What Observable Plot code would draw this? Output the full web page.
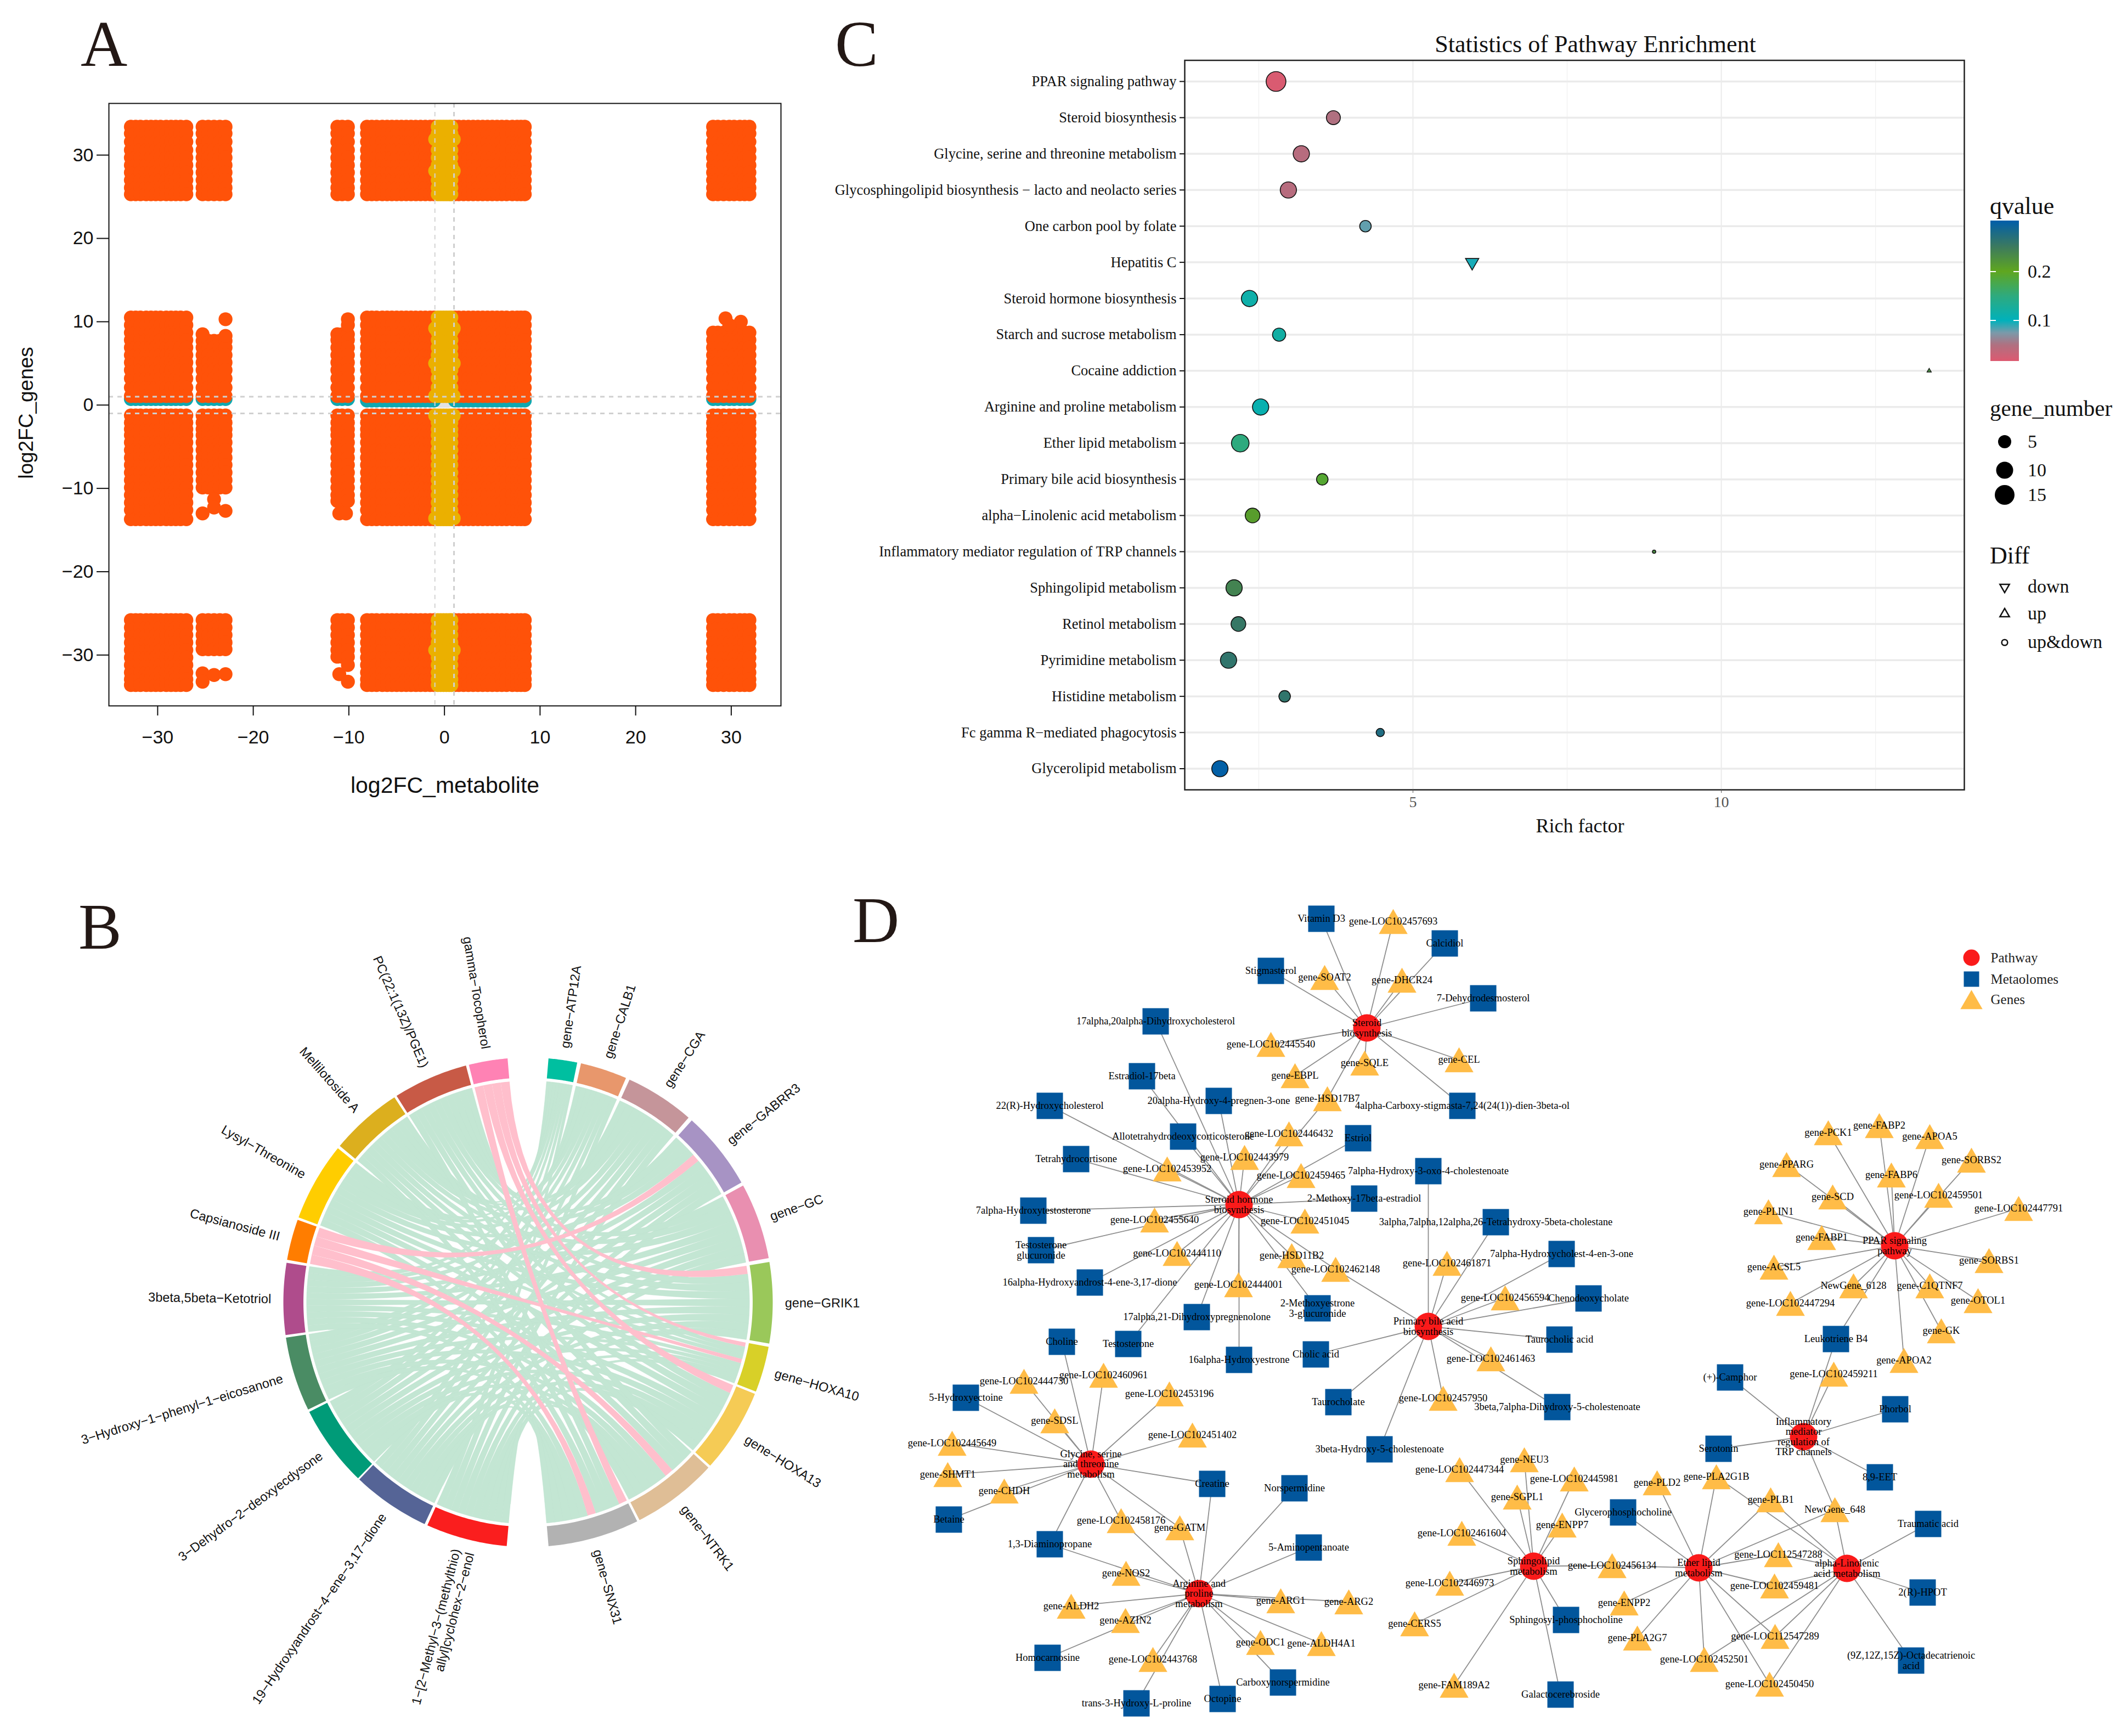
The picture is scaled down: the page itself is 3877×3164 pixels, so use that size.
<!DOCTYPE html>
<html><head><meta charset="utf-8">
<style>
html,body{margin:0;padding:0;background:#fff;overflow:hidden}
#page{position:relative;width:3877px;height:3164px;background:#fff;overflow:hidden}
#page>svg,#page>figure{position:absolute;margin:0}
.letter{position:absolute;font-family:"Liberation Serif",serif;font-size:118px;line-height:1;color:#231815}
.lg{position:absolute;font-family:"Liberation Serif",serif;color:#111;white-space:nowrap;line-height:1}
</style>
<script src="https://cdn.jsdelivr.net/npm/d3@7"></script>
<script src="https://cdn.jsdelivr.net/npm/@observablehq/plot@0.6"></script>
</head><body><div id="page"></div>
<script>
// ---------- Panel A values ----------
const metabFar = [-32.8,-32.3,-31.8,-31.2,-30.7,-30.2,-29.7,-29.1,-28.6,-28.1,-27.6,-27.0];
const metabNear = [-25.3,-24.7,-24.1,-23.5,-22.9];
const metabMid = [-11.2,-10.7,-10.1];
const metabCore = [-8.1,-7.6,-7.1,-6.5,-6,-5.5,-5,-4.5,-4,-3.5,-3,-2.5,-2,-1.5,-1.1,1.1,1.5,2,2.5,3,3.5,4,4.5,5,5.5,6,6.5,7.1,7.6,8.0,8.4];
const metabHigh = [28.1,28.6,29.2,29.8,30.3,30.9,31.4,31.9];
const metabInner = [-0.7,-0.4,-0.1,0.2,0.5,0.72];
const metabRim = [-0.97,0.97];
const metabCentre = [-0.45,-0.1,0.3];
const geneTop = [33.4,32.6,31.6,30.6,29.7,28.8,27.9,27,26.1,25.3];
const geneUp = [10.5,9.6,8.7,7.8,6.9,6,5.1,4.2,3.2,2.1,1.09];
const geneDown = [-1.25,-2.1,-2.9,-3.6,-4.5,-5.4,-6.3,-7.2,-8.1,-9,-9.9,-10.8,-11.7,-12.6,-13.7];
const geneBottom = [-25.8,-26.7,-27.6,-28.5,-29.4,-30.3,-31.2,-32.1,-32.9,-33.6];
const geneNeutralCore = [0.54];
const geneNeutralOuter = [0.72];
const geneCentre = [0.5];
const geneUpNear = [7.7,6.9,6,5.1,4.2,3.2,2.1,1.09];
const geneDownNear = [-1.25,-2.1,-2.9,-3.6,-4.5,-5.4,-6.3,-7.2,-8.1,-9,-9.9];
const geneBottomNear = [-25.8,-26.7,-27.6,-28.5,-29.3];
const geneUpMid = [8.5,7.8,6.9,6,5.1,4.2,3.2,2.1,1.09];
const geneDownMid = [-1.25,-2.1,-2.9,-3.6,-4.5,-5.4,-6.3,-7.2,-8.1,-9,-9.9,-10.8,-11.5];
const geneBottomMid = [-25.8,-26.7,-27.6,-28.5,-29.4,-30.2];
const geneUpHigh = [8.7,7.8,6.9,6,5.1,4.2,3.2,2.1,1.09];
const geneRimSparse = [31.9,28.1,9.2,5,1.09,-1.25,-13.6,-29.4];
const strayMetab = [-25.3,-22.9,-22.9,-24.1,-24.1,-25.3,-22.9,-25.3,-25.3,-24.1,-22.9,-10.1,-10.1,-11,-10.3,-11,-10.1,-10.1,29.4,31,29.8];
const strayGene = [8.5,8.3,10.3,-11.3,-12.3,-13,-12.7,-32.2,-33.2,-32.4,-32.3,9.6,10.3,-13,-13,-32.3,-31.2,-33.2,10.4,10,9.6];

// ---------- Panel B values ----------
const geneSectors = ["gene−ATP12A","gene−CALB1","gene−CGA","gene−GABRR3","gene−GC","gene−GRIK1","gene−HOXA10","gene−HOXA13","gene−NTRK1","gene−SNX31"];
const geneStart = [4.8,12.5,24.5,42,61.5,80.5,100.5,112,132.5,153.5];
const geneEnd = [11.6,23.6,41,60.7,79.6,99.7,111.4,131.9,152.9,175.2];
const geneRing = ["#00BFA0","#E8976C","#C5959A","#A793C4","#E98FB0","#9AC85A","#D8D028","#F5CB55","#DFBE96","#B2B2B2"];
const metaSectors = ["1−[2−Methyl−3−(methylthio)\nallyl]cyclohex−2−enol","19−Hydroxyandrost−4−ene−3,17−dione","3−Dehydro−2−deoxyecdysone","3−Hydroxy−1−phenyl−1−eicosanone","3beta,5beta−Ketotriol","Capsianoside III","Lysyl−Threonine","Mellilotoside A","PC(22:1(13Z)/PGE1)","gamma−Tocopherol"];
const metaStart = [185,205,224,244,262.3,280,290.3,309.7,327.5,346];
const metaEnd = [204.3,223.6,243.4,261.7,279.3,289.7,309,326.9,345.3,355.2];
const metaRing = ["#FA1E1E","#556496","#009B78","#4A8C64","#AF4C8C","#FF7D00","#FFCD00","#DCAF1E","#C85A46","#FF82B4"];
const linkMatrix = [
 [1,1,1,1,1,1,1,1,1,1],
 [1,1,1,1,1,1,1,1,1,1],
 [1,1,1,1,1,1,1,1,1,1],
 [1,1,1,1,1,1,1,1,1,1],
 [1,1,1,1,1,1,1,1,1,1],
 [0,0,0,1,0,0,1,0,1,1],
 [1,1,1,1,1,1,1,1,1,1],
 [1,1,1,1,1,1,1,1,1,1],
 [1,1,1,1,1,1,1,1,1,1],
 [0,0,0,0,0,1,1,1,0,1]
];
const pinkMetabolites = ["Capsianoside III","gamma−Tocopherol"];

// ---------- Panel C values ----------
const pathways = ["PPAR signaling pathway","Steroid biosynthesis","Glycine, serine and threonine metabolism","Glycosphingolipid biosynthesis − lacto and neolacto series","One carbon pool by folate","Hepatitis C","Steroid hormone biosynthesis","Starch and sucrose metabolism","Cocaine addiction","Arginine and proline metabolism","Ether lipid metabolism","Primary bile acid biosynthesis","alpha−Linolenic acid metabolism","Inflammatory mediator regulation of TRP channels","Sphingolipid metabolism","Retinol metabolism","Pyrimidine metabolism","Histidine metabolism","Fc gamma R−mediated phagocytosis","Glycerolipid metabolism"];
const richFactor = [2.78,3.71,3.19,2.98,4.23,5.96,2.35,2.83,13.37,2.53,2.20,3.53,2.40,8.91,2.10,2.17,2.01,2.92,4.47,1.87];
const geneNumber = [15,6,9,9,4,3,9,5,1,9,11,4,7,1,9,7,9,4,2,9];
const qValue = [.02,.05,.045,.045,.08,.095,.115,.12,.23,.11,.15,.19,.21,.23,.24,.255,.26,.26,.275,.30];
const diffKind = ["up&down","up&down","up&down","up&down","up&down","down","up&down","up&down","up","up&down","up&down","up&down","up&down","up&down","up&down","up&down","up&down","up&down","up&down","up&down"];
const qStops = [.0173,.05,.075,.1,.15,.2,.25,.303];
const qColors = ["#DD5970","#B07080","#7A9AAA","#00B1BB","#2EAA7E","#5FA61F","#3C7A5E","#005EAA"];
const geneLegend = [5,10,15];
const diffLegend = ["down","up","up&down"];

// ---------- Panel D values: [label, layout x, layout y] ----------
const pathwayNodes = [
["Steroid\nbiosynthesis",2491,1873],["Steroid hormone\nbiosynthesis",2258,2195],["Primary bile acid\nbiosynthesis",2603,2417],
["PPAR signaling\npathway",3453,2270],["Inflammatory\nmediator\nregulation of\nTRP channels",3287,2618],
["Glycine, serine\nand threonine\nmetabolism",1988,2668],["Arginine and\nproline\nmetabolism",2185,2904],
["Sphingolipid\nmetabolism",2795,2854],["Ether lipid\nmetabolism",3096,2857],["alpha-Linolenic\nacid metabolism",3366,2858]];
const metaboliteNodes = [
["Vitamin D3",2408,1674],["Calcidiol",2633,1719],["Stigmasterol",2316,1769],["7-Dehydrodesmosterol",2703,1819],
["17alpha,20alpha-Dihydroxycholesterol",2106,1861],["Estradiol-17beta",2081,1961],["20alpha-Hydroxy-4-pregnen-3-one",2221,2006],
["22(R)-Hydroxycholesterol",1913,2015],["4alpha-Carboxy-stigmasta-7,24(24(1))-dien-3beta-ol",2665,2015],["Allotetrahydrodeoxycorticosterone",2156,2071],
["Estriol",2475,2074],["Tetrahydrocortisone",1961,2112],["7alpha-Hydroxy-3-oxo-4-cholestenoate",2603,2134],["2-Methoxy-17beta-estradiol",2486,2184],
["7alpha-Hydroxytestosterone",1883,2206],["3alpha,7alpha,12alpha,26-Tetrahydroxy-5beta-cholestane",2726,2227],["Testosterone\nglucuronide",1897,2278],
["7alpha-Hydroxycholest-4-en-3-one",2846,2285],["16alpha-Hydroxyandrost-4-ene-3,17-dione",1986,2337],["Chenodeoxycholate",2895,2366],
["2-Methoxyestrone\n3-glucuronide",2401,2384],["17alpha,21-Dihydroxypregnenolone",2181,2400],["Taurocholic acid",2842,2441],
["3beta,7alpha-Dihydroxy-5-cholestenoate",2838,2564],["(+)-Camphor",3153,2510],["Phorbol",3454,2568],["Serotonin",3132,2640],["8,9-EET",3426,2692],
["Leukotriene B4",3346,2440],["Glycerophosphocholine",2958,2756],["Traumatic acid",3514,2777],["2(R)-HPOT",3504,2902],["Sphingosyl-phosphocholine",2854,2952],
["(9Z,12Z,15Z)-Octadecatrienoic\nacid",3483,3026],["Galactocerebroside",2844,3088],["Choline",1935,2445],["Testosterone",2056,2449],["16alpha-Hydroxyestrone",2258,2478],
["Cholic acid",2398,2468],["5-Hydroxyectoine",1760,2547],["Taurocholate",2439,2555],["3beta-Hydroxy-5-cholestenoate",2514,2641],["Creatine",2209,2704],
["Norspermidine",2359,2712],["Betaine",1729,2769],["1,3-Diaminopropane",1913,2814],["5-Aminopentanoate",2385,2820],["Homocarnosine",1909,3021],
["Carboxynorspermidine",2338,3066],["Octopine",2228,3096],["trans-3-Hydroxy-L-proline",2071,3104]];
const geneNodes = [
["gene-LOC102457693",2539,1679],["gene-SOAT2",2414,1781],["gene-DHCR24",2555,1786],["gene-LOC102445540",2316,1903],["gene-EBPL",2360,1960],["gene-SQLE",2487,1937],["gene-CEL",2659,1931],
["gene-HSD17B7",2419,2002],["gene-LOC102446432",2349,2066],["gene-LOC102443979",2268,2109],["gene-LOC102453952",2127,2130],["gene-LOC102459465",2371,2142],["gene-LOC102455640",2104,2223],
["gene-LOC102451045",2378,2225],["gene-LOC102444110",2145,2284],["gene-HSD11B2",2354,2288],["gene-LOC102461871",2637,2302],["gene-LOC102462148",2434,2313],["gene-LOC102444001",2257,2341],
["gene-LOC102456594",2743,2365],["gene-PCK1",3332,2064],["gene-FABP2",3425,2051],["gene-APOA5",3517,2071],["gene-SORBS2",3593,2114],["gene-PPARG",3256,2122],["gene-FABP6",3447,2141],
["gene-SCD",3340,2181],["gene-LOC102459501",3533,2178],["gene-LOC102447791",3679,2202],["gene-PLIN1",3223,2208],["gene-FABP1",3320,2255],["gene-ACSL5",3233,2309],["gene-SORBS1",3625,2297],
["NewGene_6128",3378,2343],["gene-C1QTNF7",3517,2343],["gene-OTOL1",3605,2370],["gene-LOC102447294",3263,2375],["gene-GK",3538,2425],["gene-APOA2",3470,2479],
["gene-LOC102461463",2717,2476],["gene-LOC102457950",2630,2548],["gene-LOC102459211",3342,2504],["gene-PLA2G1B",3128,2691],["gene-PLD2",3020,2702],["gene-NEU3",2778,2660],
["gene-LOC102447344",2660,2678],["gene-LOC102445981",2869,2695],["gene-SGPL1",2765,2728],["gene-PLB1",3227,2733],["NewGene_648",3344,2751],["gene-ENPP7",2847,2779],["gene-LOC102461604",2664,2794],
["gene-LOC112547288",3241,2833],["gene-LOC102456134",2938,2853],["gene-LOC102459481",3234,2890],["gene-LOC102446973",2642,2885],["gene-ENPP2",2960,2921],["gene-CERS5",2578,2959],["gene-PLA2G7",2984,2985],
["gene-LOC112547289",3235,2982],["gene-LOC102452501",3106,3024],["gene-LOC102450450",3225,3069],["gene-FAM189A2",2650,3071],
["gene-LOC102460961",2011,2506],["gene-LOC102444730",1866,2517],["gene-LOC102453196",2131,2540],["gene-SDSL",1922,2589],["gene-LOC102451402",2173,2615],["gene-LOC102445649",1735,2630],
["gene-SHMT1",1727,2687],["gene-CHDH",1830,2717],["gene-LOC102458176",2043,2771],["gene-GATM",2150,2784],["gene-NOS2",2052,2867],["gene-ARG1",2334,2917],["gene-ARG2",2458,2919],
["gene-ALDH2",1952,2927],["gene-AZIN2",2051,2953],["gene-ODC1",2297,2993],["gene-ALDH4A1",2408,2995],["gene-LOC102443768",2101,3024]];
const steroidLinks = ["Vitamin D3","gene-LOC102457693","Calcidiol","Stigmasterol","gene-SOAT2","gene-DHCR24","7-Dehydrodesmosterol","gene-LOC102445540","gene-EBPL","gene-SQLE","gene-CEL","4alpha-Carboxy-stigmasta-7,24(24(1))-dien-3beta-ol","gene-HSD17B7"];
const hormoneLinks = ["17alpha,20alpha-Dihydroxycholesterol","Estradiol-17beta","20alpha-Hydroxy-4-pregnen-3-one","22(R)-Hydroxycholesterol","gene-LOC102446432","Allotetrahydrodeoxycorticosterone","Estriol","Tetrahydrocortisone","gene-LOC102443979","gene-LOC102453952","gene-LOC102459465","2-Methoxy-17beta-estradiol","7alpha-Hydroxytestosterone","gene-LOC102455640","gene-LOC102451045","Testosterone\nglucuronide","gene-LOC102444110","gene-HSD11B2","gene-LOC102462148","16alpha-Hydroxyandrost-4-ene-3,17-dione","gene-LOC102444001","2-Methoxyestrone\n3-glucuronide","17alpha,21-Dihydroxypregnenolone","Testosterone","16alpha-Hydroxyestrone","gene-HSD17B7"];
const bileLinks = ["7alpha-Hydroxy-3-oxo-4-cholestenoate","3alpha,7alpha,12alpha,26-Tetrahydroxy-5beta-cholestane","gene-LOC102461871","7alpha-Hydroxycholest-4-en-3-one","gene-LOC102456594","Chenodeoxycholate","Taurocholic acid","gene-LOC102461463","gene-LOC102457950","3beta,7alpha-Dihydroxy-5-cholestenoate","Cholic acid","Taurocholate","3beta-Hydroxy-5-cholestenoate","gene-LOC102462148"];
const pparLinks = ["gene-PCK1","gene-FABP2","gene-APOA5","gene-SORBS2","gene-PPARG","gene-FABP6","gene-SCD","gene-LOC102459501","gene-LOC102447791","gene-PLIN1","gene-FABP1","gene-ACSL5","gene-SORBS1","NewGene_6128","gene-C1QTNF7","gene-OTOL1","gene-LOC102447294","gene-GK","gene-APOA2","Leukotriene B4"];
const trpLinks = ["(+)-Camphor","gene-LOC102459211","Leukotriene B4","Phorbol","Serotonin","8,9-EET","NewGene_648"];
const glycineLinks = ["Choline","gene-LOC102460961","gene-LOC102444730","5-Hydroxyectoine","gene-LOC102453196","gene-SDSL","gene-LOC102451402","gene-LOC102445649","gene-SHMT1","Creatine","gene-CHDH","Betaine","gene-LOC102458176","gene-GATM","1,3-Diaminopropane"];
const arginineLinks = ["Creatine","Norspermidine","gene-LOC102458176","gene-GATM","1,3-Diaminopropane","5-Aminopentanoate","gene-NOS2","gene-ARG1","gene-ARG2","gene-ALDH2","gene-AZIN2","gene-ODC1","gene-ALDH4A1","Homocarnosine","gene-LOC102443768","Carboxynorspermidine","Octopine","trans-3-Hydroxy-L-proline"];
const sphingoLinks = ["gene-NEU3","gene-LOC102447344","gene-LOC102445981","gene-SGPL1","gene-ENPP7","gene-LOC102461604","gene-LOC102456134","gene-LOC102446973","gene-CERS5","Sphingosyl-phosphocholine","gene-FAM189A2","Galactocerebroside"];
const etherLinks = ["gene-LOC102456134","gene-PLD2","gene-PLA2G1B","gene-PLB1","NewGene_648","Glycerophosphocholine","gene-LOC112547288","gene-LOC102459481","gene-ENPP2","gene-PLA2G7","gene-LOC112547289","gene-LOC102452501","gene-LOC102450450"];
const linolenicLinks = ["NewGene_648","Traumatic acid","gene-LOC112547288","gene-LOC102459481","2(R)-HPOT","(9Z,12Z,15Z)-Octadecatrienoic\nacid","gene-LOC112547289","gene-LOC102452501","gene-LOC102450450","gene-PLB1","gene-PLA2G1B"];
const hubLinks = [steroidLinks,hormoneLinks,bileLinks,pparLinks,trpLinks,glycineLinks,arginineLinks,sphingoLinks,etherLinks,linolenicLinks];
const legendNames = ["Pathway","Metaolomes","Genes"];
const legendX = [3593,3593,3593];
const legendY = [1745,1784,1821];

// ---------- helpers ----------
const page = document.getElementById("page");
const SERIF = '"Liberation Serif",serif', SANS = '"Liberation Sans",Arial,sans-serif';
function place(el,left,top){el.style.position="absolute";el.style.left=left+"px";el.style.top=top+"px";page.appendChild(el);return el;}
function addText(cls,txt,left,top,size,extra){const d=document.createElement("div");d.className=cls;d.textContent=txt;d.style.left=left+"px";d.style.top=top+"px";if(size)d.style.fontSize=size+"px";if(extra)Object.assign(d.style,extra);page.appendChild(d);return d;}

// ---------- Panel A ----------
const cross=(xs,ys)=>xs.flatMap(x=>ys.map(y=>({x,y})));
const allGenes=[...geneTop,...geneUp,...geneDown,...geneBottom];
const rank={none:0,gene:0,both:1,metab:2};
const points=[
 ...cross(metabCentre,geneCentre),
 ...cross(metabCore,geneNeutralCore),
 ...cross([...metabFar,...metabNear,...metabMid,...metabHigh],geneNeutralOuter),
 ...cross(metabFar,allGenes),...cross(metabCore,allGenes),...cross(metabInner,allGenes),
 ...cross(metabRim,geneRimSparse),
 ...cross(metabNear,[...geneTop,...geneUpNear,...geneDownNear,...geneBottomNear]),
 ...cross(metabMid,[...geneTop,...geneUpMid,...geneDownMid,...geneBottomMid]),
 ...cross(metabHigh,[...geneTop,...geneUpHigh,...geneDown,...geneBottom]),
 ...strayMetab.map((x,i)=>({x,y:strayGene[i]}))
].map(d=>({...d,cls:(Math.abs(d.x)<1&&Math.abs(d.y)<1)?"none":Math.abs(d.x)<1?"metab":Math.abs(d.y)<1?"gene":"both"}));
points.sort((a,b)=>rank[a.cls]-rank[b.cls]);
const panelA=Plot.plot({
 width:1500,height:1400,marginLeft:198,marginRight:77,marginTop:88,marginBottom:214,
 style:{fontFamily:SANS,background:"none",overflow:"visible"},
 x:{domain:[-35.1,35.2],axis:null},y:{domain:[-36.1,36.2],axis:null},
 color:{domain:["none","gene","both","metab"],range:["#E2E2E2","#10A8B0","#FF5209","#EBB000"]},
 marks:[
  Plot.dot(points,{x:"x",y:"y",r:12.7,fill:"cls",stroke:"none"}),
  Plot.ruleX([-1],{stroke:"#d4d4d4",strokeWidth:2,strokeDasharray:"8 8"}),
  Plot.ruleX([1],{stroke:"#cfcfcf",strokeWidth:3,strokeDasharray:"8 8"}),
  Plot.ruleY([-1,1],{stroke:"#d0d0d0",strokeWidth:3,strokeDasharray:"8 8"}),
  Plot.frame({stroke:"#111",strokeWidth:2}),
  Plot.axisX({ticks:[-30,-20,-10,0,10,20,30],tickSize:18,tickPadding:26,fontSize:34,label:null,color:"#111",strokeWidth:2}),
  Plot.axisY({ticks:[-30,-20,-10,0,10,20,30],tickSize:22,tickPadding:6,fontSize:34,label:null,color:"#111",strokeWidth:2}),
  Plot.text(["log2FC_metabolite"],{frameAnchor:"bottom",dy:158,fontSize:41,fill:"#111"}),
  Plot.text(["log2FC_genes"],{frameAnchor:"left",textAnchor:"middle",rotate:-90,dx:-150,dy:15,fontSize:37,fill:"#111"})
 ]});
place(panelA,0,100);

// ---------- Panel B ----------
const rad=a=>a*Math.PI/180;
const polar=(a,r)=>({x:r*Math.sin(rad(a)),y:r*Math.cos(rad(a))});
const arcPts=(a0,a1,r,n=10)=>d3.range(n+1).map(i=>polar(a0+(a1-a0)*i/n,r));
const quad=(p,q,n=22)=>d3.range(1,n).map(i=>{const t=i/n;return{x:(1-t)*(1-t)*p.x+t*t*q.x,y:(1-t)*(1-t)*p.y+t*t*q.y};});
const R=0.905;
const metaTotals=linkMatrix.map(r=>d3.sum(r));
const geneTotals=geneSectors.map((_,j)=>d3.sum(linkMatrix,r=>r[j]));
const metaUsed=metaSectors.map(()=>0), geneUsed=geneSectors.map(()=>0);
const spanOf=new Map();
metaSectors.forEach((m,i)=>{for(let j=geneSectors.length-1;j>=0;j--){if(!linkMatrix[i][j])continue;
  const w=(metaEnd[i]-metaStart[i])/metaTotals[i];const a0=metaStart[i]+metaUsed[i]*w;metaUsed[i]+=linkMatrix[i][j];spanOf.set(i+"-"+j,{a0,a1:a0+w});}});
const ribbons=[];
geneSectors.forEach((g,j)=>{for(let i=metaSectors.length-1;i>=0;i--){if(!linkMatrix[i][j])continue;
  const w=(geneEnd[j]-geneStart[j])/geneTotals[j];const b0=geneStart[j]+geneUsed[j]*w;geneUsed[j]+=linkMatrix[i][j];
  const {a0,a1}=spanOf.get(i+"-"+j);const b1=b0+w;
  const A=arcPts(a0,a1,R,4),B=arcPts(b0,b1,R,4);
  const pts=[...A,...quad(A[4],B[0]),...B,...quad(B[4],A[0])];
  const pink=pinkMetabolites.includes(metaSectors[i]);
  pts.forEach(p=>ribbons.push({...p,id:i+"-"+j,pink}));
}});
const ringPts=[];
[[geneSectors,geneStart,geneEnd,geneRing],[metaSectors,metaStart,metaEnd,metaRing]].forEach(([names,s,e,c])=>names.forEach((n,k)=>{
  [...arcPts(s[k],e[k],1,24),...arcPts(e[k],s[k],0.918,24)].forEach(p=>ringPts.push({...p,id:n,color:c[k]}));}));
const sectorLabels=[...geneSectors.map((n,k)=>({n,a:(geneStart[k]+geneEnd[k])/2})),...metaSectors.map((n,k)=>({n,a:(metaStart[k]+metaEnd[k])/2}))]
 .map(d=>({...d,...polar(d.a,1.05),rot:d.a<180?d.a-90:d.a-270,anchor:d.a<180?"start":"end"}));
const panelB=Plot.plot({
 width:1600,height:1560,margin:0,
 style:{background:"none",overflow:"visible",fontFamily:SANS},
 x:{domain:[-1,1],range:[516,1408],axis:null},y:{domain:[-1,1],range:[1219,327],axis:null},
 marks:[
  Plot.line(ribbons.filter(d=>!d.pink),{x:"x",y:"y",z:"id",fill:"#C3E6D3",stroke:"#BFE3D0",strokeWidth:0.6,curve:"linear"}),
  Plot.line(ribbons.filter(d=>d.pink),{x:"x",y:"y",z:"id",fill:"#FFBFCC",stroke:"none",curve:"linear"}),
  Plot.line(ringPts,{x:"x",y:"y",z:"id",fill:"color",stroke:"none",curve:"linear"}),
  Plot.text(sectorLabels.filter(d=>d.anchor==="start"),{x:"x",y:"y",text:"n",rotate:"rot",textAnchor:"start",fontSize:23.5,fill:"#111",lineHeight:1.1}),
  Plot.text(sectorLabels.filter(d=>d.anchor==="end"),{x:"x",y:"y",text:"n",rotate:"rot",textAnchor:"end",fontSize:23.5,fill:"#111",lineHeight:1.1})
 ]});
place(panelB,0,1600);

// ---------- Panel C ----------
const enrich=pathways.map((p,i)=>({p,rich:richFactor[i],n:geneNumber[i],q:qValue[i],diff:diffKind[i]}));
const rScale={type:"linear",domain:[1,2,5,10,15,16],range:[3,7.5,12,15.5,18,18.6],clamp:true};
const dotOpts={x:"rich",y:"p",r:"n",fill:"q",stroke:"#111",strokeWidth:1.6};
const panelC=Plot.plot({
 width:2300,height:1460,marginLeft:1009,marginRight:2300-2430,marginTop:109.5,marginBottom:1460-1439,
 style:{fontFamily:SERIF,background:"none",overflow:"visible"},
 x:{domain:[1.30,13.94],axis:null},
 y:{type:"point",domain:pathways,padding:0.584,round:false,axis:null},
 r:rScale,
 color:{type:"linear",domain:qStops,range:qColors},
 marks:[
  Plot.ruleX([2.5,7.5,12.5],{stroke:"#F2F2F2",strokeWidth:1.5}),
  Plot.ruleX([5,10],{stroke:"#EBEBEB",strokeWidth:2}),
  Plot.ruleY(pathways,{y:d=>d,stroke:"#EBEBEB",strokeWidth:3.5}),
  Plot.dot(enrich.filter(d=>d.diff==="up&down"),{...dotOpts}),
  Plot.dot(enrich.filter(d=>d.diff==="up"),{...dotOpts,symbol:"triangle",strokeWidth:1.2}),
  Plot.dot(enrich.filter(d=>d.diff==="down"),{...dotOpts,symbol:"triangle",rotate:180}),
  Plot.frame({stroke:"#222",strokeWidth:2.5}),
  Plot.axisX({ticks:[5,10],tickSize:6,tickPadding:6,fontSize:28,label:null,color:"#555"}),
  Plot.axisY({ticks:pathways,tickSize:9,tickPadding:6,fontSize:26.5,label:null,color:"#111",strokeWidth:2}),
  Plot.text(["Statistics of Pathway Enrichment"],{frameAnchor:"top",dy:-29,dx:38,fontSize:44,fill:"#111",lineAnchor:"middle"}),
  Plot.text(["Rich factor"],{frameAnchor:"bottom",dy:66,dx:10,fontSize:36,fill:"#111",lineAnchor:"middle"})
 ]});
place(panelC,1150,0);

// Panel C legends
addText("lg","qvalue",3627,354,44);
const bar=document.createElement("div");
const qTop=.303,qBot=.0173;
bar.style.cssText=`position:absolute;left:3628px;top:402px;width:52px;height:256px;background:linear-gradient(to top,${qStops.map((q,i)=>qColors[i]+" "+((q-qBot)/(qTop-qBot)*100).toFixed(1)+"%").join(",")})`;
page.appendChild(bar);
[[0.2,494.5],[0.1,584]].forEach(([q,y])=>{
 addText("lg",String(q),3696,y-17,34);
 [3628,3670].forEach(x=>{const t=document.createElement("div");t.style.cssText=`position:absolute;left:${x}px;top:${y-1}px;width:10px;height:2px;background:#fff`;page.appendChild(t);});
});
addText("lg","gene_number",3627,724,41);
const NS="http://www.w3.org/2000/svg";
const rOf=panelC.scale("r");
function legendSymbol(path,cx,cy,fill,stroke,sw,rot){
 const s=document.createElementNS(NS,"svg");s.setAttribute("width",60);s.setAttribute("height",60);s.style.cssText=`position:absolute;left:${cx-30}px;top:${cy-30}px`;
 const p=document.createElementNS(NS,"path");p.setAttribute("d",path);p.setAttribute("transform",`translate(30,30) rotate(${rot||0})`);p.setAttribute("fill",fill);p.setAttribute("stroke",stroke);p.setAttribute("stroke-width",sw);s.appendChild(p);page.appendChild(s);
}
const geneLegendY=[805,857,902];
geneLegend.forEach((n,i)=>{const r=rOf.apply(n);legendSymbol(d3.symbol(d3.symbolCircle,Math.PI*r*r)(),3654,geneLegendY[i],"#000","none",0);addText("lg",String(n),3696,geneLegendY[i]-17,34);});
addText("lg","Diff",3627,991,44);
const diffLegendY=[1070,1119,1171];
diffLegend.forEach((n,i)=>{
 const sym=n==="up&down"?d3.symbolCircle:d3.symbolTriangle;
 legendSymbol(d3.symbol(sym,n==="up&down"?90:130)(),3654,diffLegendY[i],"#fff","#111",2.5,n==="down"?180:0);
 addText("lg",n,3696,diffLegendY[i]-18,34);
});

// ---------- Panel D ----------
const toNode=(a,kind)=>a.map(([name,x,y])=>({name,x,y,kind}));
const nodes=[...toNode(pathwayNodes,"p"),...toNode(metaboliteNodes,"m"),...toNode(geneNodes,"g")];
const byName=new Map(nodes.map(n=>[n.name,n]));
const edges=hubLinks.flatMap((list,i)=>list.map(t=>({s:byName.get(pathwayNodes[i][0]),t:byName.get(t)})));
const lg=legendNames.map((name,i)=>({name,x:legendX[i],y:legendY[i]}));
const panelD=Plot.plot({
 width:2277,height:1544,margin:0,
 style:{fontFamily:SERIF,background:"none",overflow:"visible"},
 x:{domain:[1600,3877],range:[0,2277],axis:null},y:{domain:[1620,3164],range:[0,1544],axis:null},
 marks:[
  Plot.link(edges,{x1:d=>d.s.x,y1:d=>d.s.y,x2:d=>d.t.x,y2:d=>d.t.y,stroke:"#8E8E8E",strokeWidth:1.8}),
  Plot.dot(nodes.filter(d=>d.kind==="m"),{x:"x",y:"y",symbol:"square",r:27.1,fill:"#02569C",stroke:"none"}),
  Plot.dot(nodes.filter(d=>d.kind==="g"),{x:"x",y:"y",symbol:"triangle",r:19.5,dy:7.6,fill:"#FFBC47",stroke:"none"}),
  Plot.dot(nodes.filter(d=>d.kind==="p"),{x:"x",y:"y",r:25,fill:"#FA1A1A",stroke:"none"}),
  Plot.text(nodes,{x:"x",y:"y",text:"name",fontSize:18.5,fill:"#000",lineHeight:1}),
  Plot.dot(lg.filter(d=>d.name==="Pathway"),{x:"x",y:"y",r:15,fill:"#FA1A1A",stroke:"none"}),
  Plot.dot(lg.filter(d=>d.name==="Metaolomes"),{x:"x",y:"y",symbol:"square",r:15.8,fill:"#02569C",stroke:"none"}),
  Plot.dot(lg.filter(d=>d.name==="Genes"),{x:"x",y:"y",symbol:"triangle",r:15,dy:6,fill:"#FFBC47",stroke:"none"}),
  Plot.text(lg,{x:"x",y:"y",text:"name",dx:35,textAnchor:"start",fontSize:25,fill:"#222"})
 ]});
place(panelD,1600,1620);

// ---------- Panel letters ----------
[["A",147,22],["B",143,1631],["C",1522,22],["D",1554,1619]].forEach(([t,x,y])=>addText("letter",t,x,y));
</script></body></html>
